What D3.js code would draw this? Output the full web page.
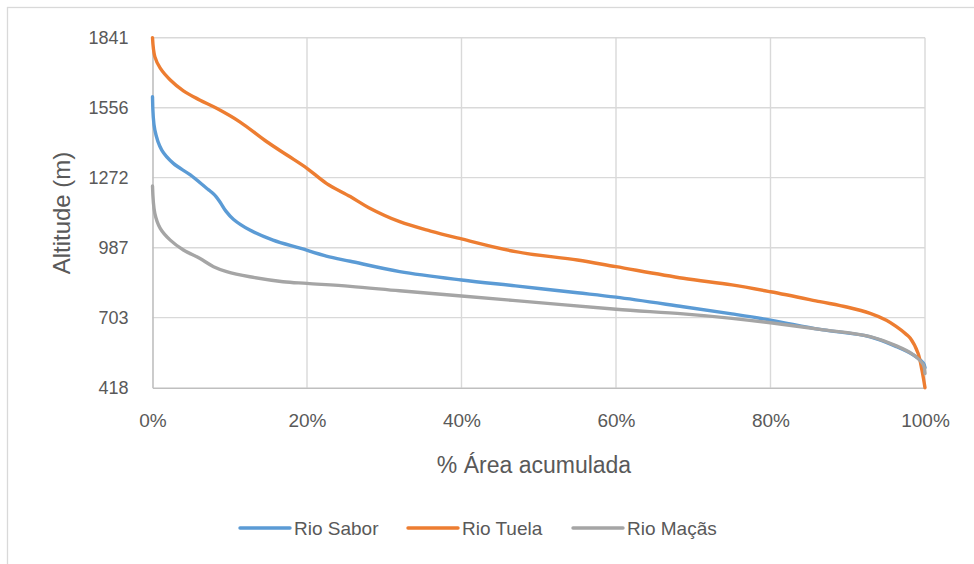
<!DOCTYPE html>
<html>
<head>
<meta charset="utf-8">
<script src="https://cdn.jsdelivr.net/npm/d3@7"></script>
<style>
  html, body { margin: 0; padding: 0; background: #fff; }
  svg { display: block; font-family: "Liberation Sans", Arial, sans-serif; }
</style>
</head>
<body>
<svg id="chart" width="974" height="564"></svg>
<script>
// Hypsometric curves: altitude vs cumulative basin area (%)
const yTicks = [418, 703, 987, 1272, 1556, 1841];
const xTicks = [0, 20, 40, 60, 80, 100];

const saborArea = [0, 0.3, 1.2, 2.7, 4.9, 7, 7.6, 8.2, 8.8, 9.5, 10.5, 12.6, 15.6, 19.1, 22.5, 25.6, 32, 40, 47, 55, 60, 68.7, 75, 80, 86.4, 92.9, 96.3, 98.5, 99.8, 100];
const saborAlt  = [1601, 1466, 1384, 1330, 1283, 1229, 1214, 1196, 1170, 1136, 1102, 1059, 1018, 985, 953, 932, 890, 856, 832, 804, 786, 747, 718, 693, 655, 625, 585, 551, 517, 500];

const tuelaArea = [0, 0.3, 1, 2.3, 4, 6.1, 8.3, 11.3, 14.8, 17.4, 20, 22.5, 25.6, 28, 32, 36, 40, 47, 55, 60, 68.7, 75, 80, 86.4, 90, 92.9, 95, 96.3, 97.5, 98.1, 99.1, 99.6, 100];
const tuelaAlt  = [1841, 1764, 1717, 1669, 1625, 1588, 1554, 1499, 1418, 1364, 1310, 1249, 1195, 1150, 1093, 1055, 1023, 971, 937, 910, 863, 836, 808, 768, 745, 720, 692, 666, 637, 619, 558, 490, 418];

const macasArea = [0, 0.3, 1, 2.3, 4, 6.1, 7.9, 9.6, 12.6, 16.9, 20, 25.6, 32, 40, 50, 60, 68.7, 75, 80, 86.4, 92.9, 96.3, 98.5, 99.8, 100];
const macasAlt  = [1238, 1127, 1066, 1018, 978, 944, 910, 890, 869, 849, 842, 830, 812, 791, 764, 737, 718, 700, 682, 655, 626, 588, 552, 510, 476];

const seriesNames  = ["Rio Sabor", "Rio Tuela", "Rio Maçãs"];
const seriesColors = ["#5B9BD5", "#ED7D31", "#A5A5A5"];

const series = [
  { name: seriesNames[0], color: seriesColors[0], pts: saborArea.map((a, i) => [a, saborAlt[i]]) },
  { name: seriesNames[1], color: seriesColors[1], pts: tuelaArea.map((a, i) => [a, tuelaAlt[i]]) },
  { name: seriesNames[2], color: seriesColors[2], pts: macasArea.map((a, i) => [a, macasAlt[i]]) }
];

const svg = d3.select("#chart");
const textColor = "#595959";

svg.append("rect").attr("width", 974).attr("height", 564).attr("fill", "#fff");
// chart frame
svg.append("rect")
  .attr("x", 7.5).attr("y", 7.5).attr("width", 1100).attr("height", 1100)
  .attr("fill", "none").attr("stroke", "#d9d9d9").attr("stroke-width", 1.3);

const x = d3.scaleLinear().domain([0, 100]).range([152.5, 925]);
const y = d3.scaleLinear().domain([418, 1841]).range([387.7, 37.7]);

// gridlines
svg.append("g")
  .selectAll("line").data(yTicks.slice(1)).join("line")
  .attr("x1", x(0)).attr("x2", x(100))
  .attr("y1", d => y(d)).attr("y2", d => y(d))
  .attr("stroke", "#d9d9d9").attr("stroke-width", 1.4);
svg.append("g")
  .selectAll("line").data(xTicks.slice(1)).join("line")
  .attr("x1", d => x(d)).attr("x2", d => x(d))
  .attr("y1", y(418)).attr("y2", y(1841))
  .attr("stroke", "#d9d9d9").attr("stroke-width", 1.4);

// axes
const yAxis = svg.append("g")
  .attr("transform", `translate(${x(0)},0)`)
  .call(d3.axisLeft(y).tickValues(yTicks).tickSize(0).tickPadding(24).tickFormat(d3.format("d")));
const xAxis = svg.append("g")
  .attr("transform", `translate(0,${y(418)})`)
  .call(d3.axisBottom(x).tickValues(xTicks).tickSize(0).tickPadding(26).tickFormat(d => d + "%"));

[yAxis, xAxis].forEach(g => {
  g.select(".domain").attr("stroke", "#bfbfbf").attr("stroke-width", 1.6);
  g.selectAll("text").attr("fill", textColor)
    .attr("font-family", "'Liberation Sans', Arial, sans-serif");
});
yAxis.selectAll("text").attr("font-size", 18);
xAxis.selectAll("text").attr("font-size", 19);

// curves
const line = d3.line()
  .x(d => x(d[0])).y(d => y(d[1]))
  .curve(d3.curveCatmullRom.alpha(0.5));

svg.append("g").selectAll("path").data(series).join("path")
  .attr("d", d => line(d.pts))
  .attr("fill", "none")
  .attr("stroke", d => d.color)
  .attr("stroke-width", 3.4)
  .attr("stroke-linejoin", "round")
  .attr("stroke-linecap", "round");

// axis titles
svg.append("text")
  .attr("x", 534).attr("y", 473)
  .attr("text-anchor", "middle")
  .attr("fill", textColor).attr("font-size", 23)
  .text("% Área acumulada");

svg.append("text")
  .attr("transform", "translate(70,213) rotate(-90)")
  .attr("text-anchor", "middle")
  .attr("fill", textColor).attr("font-size", 24)
  .text("Altitude (m)");

// legend
const legendX = [240, 408, 573];
const lg = svg.append("g");
series.forEach((s, i) => {
  const g = lg.append("g").attr("transform", `translate(${legendX[i]},528)`);
  g.append("line").attr("x1", 0).attr("x2", 50).attr("y1", 0).attr("y2", 0)
    .attr("stroke", s.color).attr("stroke-width", 3.4).attr("stroke-linecap", "round");
  g.append("text").attr("x", 54).attr("y", 0).attr("dy", "0.35em")
    .attr("fill", textColor).attr("font-size", 19).text(s.name);
});
</script>
</body>
</html>
